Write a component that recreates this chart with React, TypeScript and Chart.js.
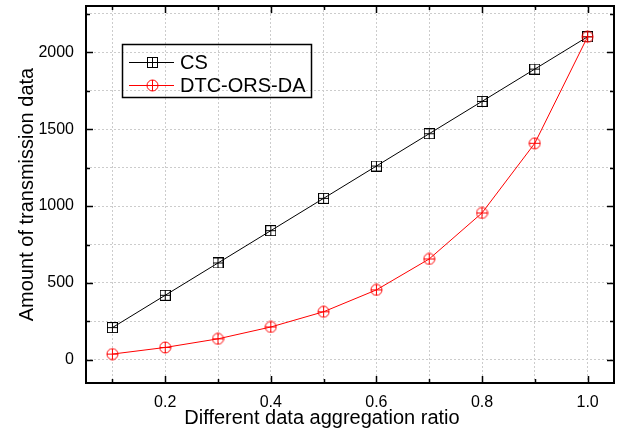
import React, { useEffect, useRef } from "react";
import { Chart, registerables } from "chart.js";

Chart.register(...registerables);

const xValues = [0.1, 0.2, 0.3, 0.4, 0.5, 0.6, 0.7, 0.8, 0.9, 1.0];
const csValues = [210, 420, 630, 840, 1050, 1260, 1470, 1680, 1890, 2100];
const dtcValues = [38, 81, 137, 214, 313, 455, 656, 955, 1408, 2100];
const seriesNames = ["CS", "DTC-ORS-DA"];
const xMajorTicks = [0.2, 0.4, 0.6, 0.8, 1.0];
const xMinorTicks = [0.1, 0.3, 0.5, 0.7, 0.9];
const yMajorTicks = [0, 500, 1000, 1500, 2000];
const yMinorTicks = [250, 750, 1250, 1750, 2250];
const xTitle = "Different data aggregation ratio";
const yTitle = "Amount of transmission data";

const FONT = "'Liberation Sans', Arial, sans-serif";

function isIn(arr: number[], v: number) {
  return arr.some((a) => Math.abs(a - v) < 1e-9);
}

function makeSquareMarker(color: string) {
  const c = document.createElement("canvas");
  c.width = 11;
  c.height = 11;
  const g = c.getContext("2d")!;
  g.strokeStyle = color;
  g.lineWidth = 1;
  g.strokeRect(0.5, 0.5, 10, 10);
  g.beginPath();
  g.moveTo(5.5, 0.5);
  g.lineTo(5.5, 10.5);
  g.moveTo(0.5, 5.5);
  g.lineTo(10.5, 5.5);
  g.stroke();
  return c;
}

function makeCircleMarker(color: string) {
  const c = document.createElement("canvas");
  c.width = 13;
  c.height = 13;
  const g = c.getContext("2d")!;
  g.strokeStyle = color;
  g.lineWidth = 1;
  g.beginPath();
  g.arc(6.5, 6.5, 5.5, 0, Math.PI * 2);
  g.moveTo(6.5, 1);
  g.lineTo(6.5, 12);
  g.moveTo(1, 6.5);
  g.lineTo(12, 6.5);
  g.stroke();
  return c;
}

export default function App() {
  const ref = useRef<HTMLCanvasElement | null>(null);

  useEffect(() => {
    document.body.style.margin = "0";
    const canvas = ref.current;
    if (!canvas) return;
    const sq = makeSquareMarker("#000000");
    const ci = makeCircleMarker("#ff0000");

    const framePlugin = {
      id: "framePlugin",
      afterDraw(chart: any) {
        const ctx = chart.ctx;
        const a = chart.chartArea;
        const xs = chart.scales.x;
        const ys = chart.scales.y;
        ctx.save();
        ctx.strokeStyle = "#000";
        ctx.lineWidth = 2;
        ctx.strokeRect(a.left, a.top, a.right - a.left, a.bottom - a.top);
        ctx.lineWidth = 1.5;
        ctx.beginPath();
        const all = [...xMajorTicks, ...xMinorTicks];
        all.forEach((v) => {
          const len = isIn(xMajorTicks, v) ? 7 : 4;
          const px = Math.round(xs.getPixelForValue(v)) + 0.5;
          ctx.moveTo(px, a.bottom);
          ctx.lineTo(px, a.bottom - len);
          ctx.moveTo(px, a.top);
          ctx.lineTo(px, a.top + len);
        });
        const ally = [...yMajorTicks, ...yMinorTicks];
        ally.forEach((v) => {
          const len = isIn(yMajorTicks, v) ? 7 : 4;
          const py = Math.round(ys.getPixelForValue(v)) + 0.5;
          ctx.moveTo(a.left, py);
          ctx.lineTo(a.left + len, py);
          ctx.moveTo(a.right, py);
          ctx.lineTo(a.right - len, py);
        });
        ctx.stroke();

        // axis titles
        ctx.fillStyle = "#000";
        ctx.font = `20px ${FONT}`;
        ctx.textAlign = "center";
        ctx.textBaseline = "alphabetic";
        ctx.fillText(xTitle, a.left + 236, 424);
        ctx.save();
        ctx.translate(33, (a.top + a.bottom) / 2);
        ctx.rotate(-Math.PI / 2);
        ctx.fillText(yTitle, 0, 0);
        ctx.restore();

        // legend
        const lx = a.left + 36;
        const ly = a.top + 38;
        ctx.lineWidth = 1.5;
        ctx.strokeStyle = "#000";
        ctx.strokeRect(lx + 0.5, ly + 0.5, 189, 53);
        const rows = [
          { color: "#000000", img: sq, name: seriesNames[0], y: ly + 18 },
          { color: "#ff0000", img: ci, name: seriesNames[1], y: ly + 41 },
        ];
        rows.forEach((r) => {
          ctx.strokeStyle = r.color;
          ctx.lineWidth = 1;
          ctx.beginPath();
          ctx.moveTo(lx + 7, r.y + 0.5);
          ctx.lineTo(lx + 52, r.y + 0.5);
          ctx.stroke();
          ctx.drawImage(r.img, Math.round(lx + 30 - r.img.width / 2), Math.round(r.y + 0.5 - r.img.height / 2));
          ctx.fillStyle = "#000";
          ctx.textAlign = "left";
          ctx.textBaseline = "middle";
          ctx.font = `20px ${FONT}`;
          ctx.fillText(r.name, lx + 58, r.y + 1);
        });
        ctx.restore();
      },
    };

    const chart = new Chart(canvas, {
      type: "line",
      data: {
        datasets: [
          {
            label: seriesNames[0],
            data: xValues.map((x, i) => ({ x, y: csValues[i] })),
            borderColor: "#000000",
            borderWidth: 1,
            pointStyle: sq as any,
            pointRadius: 5,
            order: 1,
          },
          {
            label: seriesNames[1],
            data: xValues.map((x, i) => ({ x, y: dtcValues[i] })),
            borderColor: "#ff0000",
            borderWidth: 1,
            pointStyle: ci as any,
            pointRadius: 5,
            order: 0,
          },
        ],
      },
      options: {
        animation: false,
        responsive: false,
        layout: { padding: { left: 0, top: 6, right: 7, bottom: 0 } },
        plugins: { legend: { display: false }, tooltip: { enabled: false } },
        scales: {
          x: {
            type: "linear",
            min: 0.05,
            max: 1.05,
            afterBuildTicks: (s: any) => {
              s.ticks = [...xMinorTicks, ...xMajorTicks].sort((a, b) => a - b).map((v) => ({ value: v }));
            },
            afterFit: (s: any) => {
              s.height = 47;
              s.paddingLeft = 0;
              s.paddingRight = 0;
            },
            ticks: {
              autoSkip: false,
              maxRotation: 0,
              padding: 10,
              color: "#000",
              font: { family: FONT, size: 16 },
              callback: (v: any) => (isIn(xMajorTicks, Number(v)) ? Number(v).toFixed(1) : ""),
            },
            grid: { color: "#cccccc", lineWidth: 1, drawTicks: false },
            border: { display: false, dash: [2, 2] },
          },
          y: {
            type: "linear",
            min: -150,
            max: 2300,
            afterBuildTicks: (s: any) => {
              s.ticks = [...yMajorTicks, ...yMinorTicks].sort((a, b) => a - b).map((v) => ({ value: v }));
            },
            afterFit: (s: any) => {
              s.width = 86;
              s.paddingTop = 0;
              s.paddingBottom = 0;
            },
            ticks: {
              autoSkip: false,
              padding: 12,
              color: "#000",
              font: { family: FONT, size: 16 },
              callback: (v: any) => (isIn(yMajorTicks, Number(v)) ? String(v) : ""),
            },
            grid: { color: "#cccccc", lineWidth: 1, drawTicks: false },
            border: { display: false, dash: [2, 2] },
          },
        },
      },
      plugins: [framePlugin],
    });
    return () => chart.destroy();
  }, []);

  return <canvas ref={ref} width={621} height={430} style={{ display: "block" }} />;
}
